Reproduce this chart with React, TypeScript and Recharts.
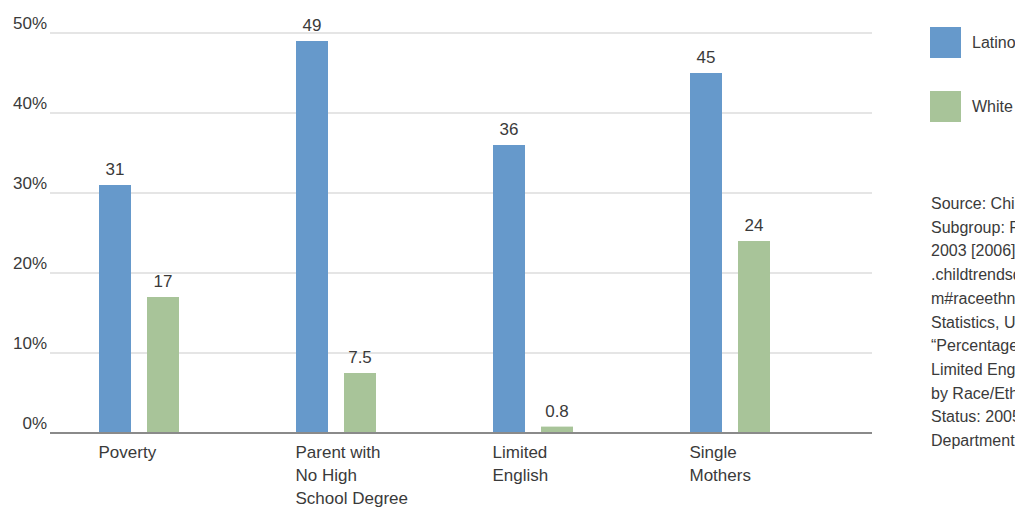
import { BarChart, Bar, XAxis, YAxis, CartesianGrid, LabelList } from 'recharts'

const categories = ['Poverty', 'Parent with\nNo High\nSchool Degree', 'Limited\nEnglish', 'Single\nMothers']
const latino = [31, 49, 36, 45]
const white = [17, 7.5, 0.8, 24]
const yTicks = [0, 10, 20, 30, 40, 50]

const sourceLines = [
  'Source: Child Trends DataBank, Racial and Ethnic',
  'Subgroup: Race/Ethnicity, Children in Poverty,',
  '2003 [2006]. Available at http://www',
  '.childtrendsdatabank.org/indicators/4Poverty.cfm',
  'm#raceethnicity; National Center for Education',
  'Statistics, U.S. Department of Education,',
  '“Percentage of Children Who Speak English with',
  'Limited English Proficiency, Family Structure',
  'by Race/Ethnicity and Parent Marital',
  'Status: 2005,” U.S. Census Bureau,',
  'Department of Commerce.',
]

const BLUE = '#6699cb'
const GREEN = '#a8c499'
const FONT = '"Liberation Sans", Arial, sans-serif'
const TEXT = '#3a3a3a'

const data = categories.map((c, i) => ({ name: c, latino: latino[i], white: white[i] }))

const YTick = ({ x, y, payload }: any) => (
  <text x={x + 6} y={y - 10} textAnchor="end" dominantBaseline="central" fontSize={17} fill={TEXT} fontFamily={FONT}>
    {payload.value}%
  </text>
)

const XTick = ({ x, y, payload }: any) => (
  <text x={x - 40} y={y} fontSize={17} fill={TEXT} fontFamily={FONT}>
    {String(payload.value).split('\n').map((line, i) => (
      <tspan key={i} x={x - 40} dy={i === 0 ? 17 : 23}>{line}</tspan>
    ))}
  </text>
)

export default function App() {
  return (
    <div style={{ position: 'relative', width: 1015, height: 505, overflow: 'hidden', fontFamily: FONT }}>
      <BarChart width={1015} height={505} data={data} barGap={16}
        margin={{ top: 25, right: 151, left: 0, bottom: 0 }}>
        <CartesianGrid vertical={false} stroke="#dcdcdc" strokeWidth={1.5} />
        <YAxis domain={[0, 50]} ticks={yTicks} width={42} axisLine={false} tickLine={false}
          tickMargin={3} tick={<YTick />} />
        <XAxis dataKey="name" height={80} padding={{ left: -10, right: 44 }} tickLine={false}
          axisLine={{ stroke: '#8a8a8a', strokeWidth: 2 }} tick={<XTick />} interval={0} />
        <Bar dataKey="latino" fill={BLUE} barSize={32} isAnimationActive={false}>
          <LabelList dataKey="latino" position="top" offset={10} fontSize={17} fill={TEXT} fontFamily={FONT} />
        </Bar>
        <Bar dataKey="white" fill={GREEN} barSize={32} isAnimationActive={false}>
          <LabelList dataKey="white" position="top" offset={10} fontSize={17} fill={TEXT} fontFamily={FONT} />
        </Bar>
      </BarChart>

      {/* legend */}
      {[{ label: 'Latino', color: BLUE, top: 19 }, { label: 'White', color: GREEN, top: 83 }].map(item => (
        <div key={item.label} style={{ position: 'absolute', left: 922, top: item.top, display: 'flex', alignItems: 'center' }}>
          <div style={{ width: 31, height: 31, background: item.color }} />
          <span style={{ marginLeft: 11, fontSize: 16, color: TEXT }}>{item.label}</span>
        </div>
      ))}

      {/* source note */}
      <div style={{ position: 'absolute', left: 923, top: 184, fontSize: 16, lineHeight: '23.7px', color: TEXT, whiteSpace: 'nowrap' }}>
        {sourceLines.map((l, i) => <div key={i}>{l}</div>)}
      </div>
    </div>
  )
}
